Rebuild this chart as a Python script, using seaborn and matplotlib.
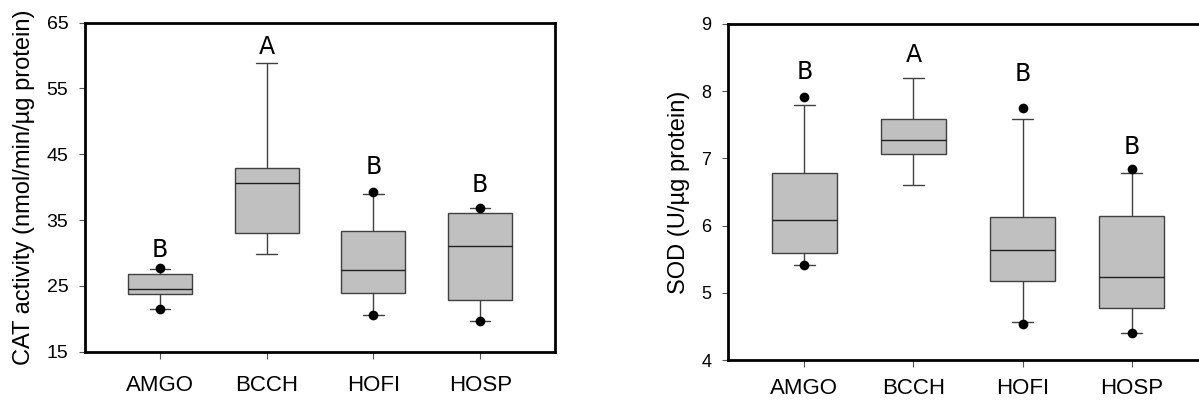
import numpy as np
import pandas as pd
import matplotlib
matplotlib.use('Agg')
import matplotlib.pyplot as plt
import seaborn as sns

species = ['AMGO', 'BCCH', 'HOFI', 'HOSP']

# five-number summaries: lower whisker, Q1, median, Q3, upper whisker
cat_low = [21.5, 29.8, 20.6, 19.6]
cat_q1 = [23.8, 33.1, 23.9, 22.9]
cat_med = [24.6, 40.6, 27.4, 31.1]
cat_q3 = [26.8, 42.9, 33.3, 36.1]
cat_high = [27.6, 58.8, 39.0, 36.8]
# outlier dots (5th / 95th percentiles)
cat_dot_sp = ['AMGO', 'AMGO', 'HOFI', 'HOFI', 'HOSP', 'HOSP']
cat_dot_val = [27.7, 21.5, 39.2, 20.6, 36.9, 19.6]
cat_letters = ['B', 'A', 'B', 'B']
cat_letter_y = [30.5, 61.3, 43.0, 40.4]

sod_low = [5.42, 6.61, 4.56, 4.40]
sod_q1 = [5.59, 7.07, 5.18, 4.78]
sod_med = [6.09, 7.28, 5.63, 5.23]
sod_q3 = [6.79, 7.59, 6.13, 6.15]
sod_high = [7.79, 8.19, 7.59, 6.78]
sod_dot_sp = ['AMGO', 'AMGO', 'HOFI', 'HOFI', 'HOSP', 'HOSP']
sod_dot_val = [7.91, 5.42, 7.75, 4.53, 6.84, 4.40]
sod_letters = ['B', 'A', 'B', 'B']
sod_letter_y = [8.29, 8.54, 8.25, 7.17]


def summary_frame(low, q1, med, q3, high):
    rows = []
    for i, sp in enumerate(species):
        for v in [low[i], q1[i], med[i], q3[i], high[i]]:
            rows.append({'species': sp, 'value': v})
    return pd.DataFrame(rows)


cat_df = summary_frame(cat_low, cat_q1, cat_med, cat_q3, cat_high)
sod_df = summary_frame(sod_low, sod_q1, sod_med, sod_q3, sod_high)
cat_dots = pd.DataFrame({'species': cat_dot_sp, 'value': cat_dot_val})
sod_dots = pd.DataFrame({'species': sod_dot_sp, 'value': sod_dot_val})

sns.set_style('white')
plt.rcParams['font.family'] = ['Liberation Sans', 'DejaVu Sans']
plt.rcParams['text.color'] = 'black'
plt.rcParams['axes.labelcolor'] = 'black'

fig = plt.figure(figsize=(11.99, 4.04), dpi=100)
ax1 = fig.add_axes([0.0709, 0.1295, 0.392, 0.8144])
ax2 = fig.add_axes([0.6072, 0.1089, 0.4003, 0.8317])


def panel(ax, df, dots, letters, letter_y, ylim, yticks, ylabel, ytick_size, xpad):
    sns.boxplot(data=df, x='species', y='value', order=species, whis=(0, 100),
                width=0.6, color='#c0c0c0', saturation=1, linecolor='#404040',
                linewidth=1, showfliers=False, capwidths=0.19,
                medianprops={'color': '#202020'}, ax=ax)
    sns.stripplot(data=dots, x='species', y='value', order=species, jitter=False,
                  color='black', size=7, ax=ax, zorder=5)
    for i, (t, y) in enumerate(zip(letters, letter_y)):
        ax.text(i, y, t, ha='center', va='center', fontsize=17,
                family='DejaVu Sans', color='black')
    ax.set_xlim(-0.7, 3.7)
    ax.set_ylim(*ylim)
    ax.set_yticks(yticks)
    ax.set_xlabel('')
    ax.set_ylabel(ylabel, fontsize=17, labelpad=8, color='black')
    for s in ax.spines.values():
        s.set_visible(True)
        s.set_linewidth(2)
        s.set_color('black')
    ax.tick_params(axis='y', left=True, direction='out', length=4, width=0.8,
                   color='#555555', labelcolor='black', labelsize=ytick_size, pad=8)
    ax.tick_params(axis='x', bottom=True, direction='out', length=5, width=0.8,
                   color='#555555', labelcolor='black', labelsize=16, pad=xpad)


panel(ax1, cat_df, cat_dots, cat_letters, cat_letter_y, (15, 65),
      [15, 25, 35, 45, 55, 65], 'CAT activity (nmol/min/\u00b5g protein)', 14, 12)
panel(ax2, sod_df, sod_dots, sod_letters, sod_letter_y, (4, 9),
      [4, 5, 6, 7, 8, 9], 'SOD (U/\u00b5g protein)', 13, 8)

fig.savefig('out.png', dpi=100)
